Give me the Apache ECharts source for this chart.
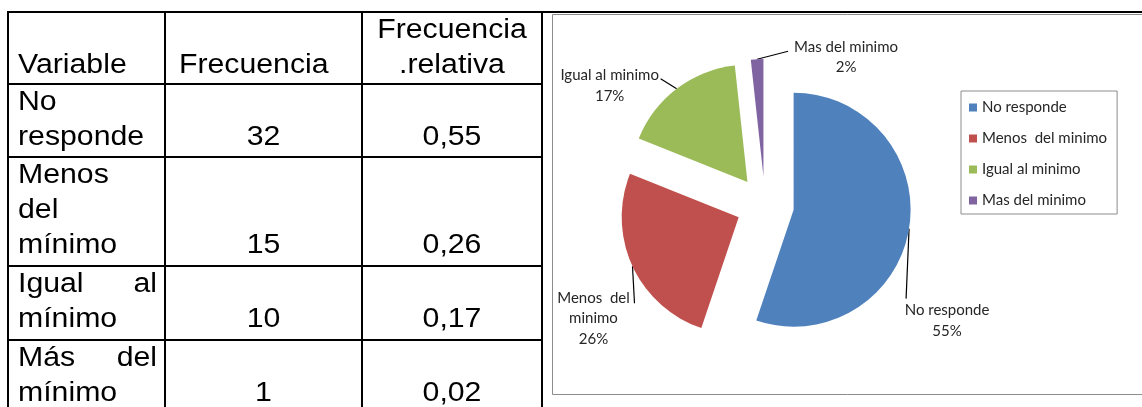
<!DOCTYPE html>
<html>
<head>
<meta charset="utf-8">
<script src="https://cdn.jsdelivr.net/npm/echarts@6/dist/echarts.min.js"></script>
<style>
  html, body { margin: 0; padding: 0; background: #fff; }
  #c { width: 1142px; height: 407px; }
</style>
</head>
<body>
<div id="c"></div>
<script>
// ---------------- data ----------------
const tableHeaders = ['Variable', 'Frecuencia', 'Frecuencia\n.relativa'];
const tableCategories = ['No\nresponde', 'Menos\ndel\nmínimo', 'Igual al\nmínimo', 'Más del\nmínimo'];
const frequencies = [32, 15, 10, 1];
const relativeFrequencies = [0.55, 0.26, 0.17, 0.02];
const pieCategories = ['No responde', 'Menos  del minimo', 'Igual al minimo', 'Mas del minimo'];
const pieLabelNames = ['No responde', 'Menos  del\nminimo', 'Igual al minimo', 'Mas del minimo'];
const pieColors = ['#4F81BD', '#C0504D', '#9BBB59', '#8064A2'];

// ---------------- layout ----------------
const TABLE_FONT = '"Liberation Sans", Arial, sans-serif';
const FS = 27, SX = 1.12, MID = 9.5;         // font size, horizontal stretch, baseline->middle
const colX = [8, 165, 362, 542];
const rowTops = [12, 84, 157, 266, 340];     // header + 4 rows
const TOP_Y = 12;
const PITCH = 35, FIRST_OFF = 28;
const CELL_PAD_L = 10, CELL_PAD_R = 8, HEADER2_LEFT = 179;

const PIE_C = [765, 205], PIE_R = 117, EXPLODE = 29;
// label placement relative to the arc mid-point: [labelDx, labelDy, lineEndDx, lineEndDy]
const labelPlacement = [
  [38, 92, -3, 70],
  [-39, 52, 2, 37],
  [-67, -3, -16, -10],
  [89, -2, 31, -8]
];

const chart = echarts.init(document.getElementById('c'), null, { renderer: 'canvas' });

// ---------------- table graphics ----------------
const graphics = [];
function txt(text, x, baseline, align) {
  graphics.push({
    type: 'text', x: x, y: baseline - MID, scaleX: SX, silent: true, z: 10,
    style: { text: text, fill: '#000', font: FS + 'px ' + TABLE_FONT, align: align, verticalAlign: 'middle' }
  });
}
function lineEl(x1, y1, x2, y2, color, w) {
  graphics.push({ type: 'line', silent: true, z: 5,
    shape: { x1: x1, y1: y1, x2: x2, y2: y2 }, style: { stroke: color, lineWidth: w } });
}
// chart frame
graphics.push({ type: 'rect', silent: true, z: 1,
  shape: { x: 552.5, y: 14.5, width: 640, height: 380 },
  style: { fill: 'none', stroke: '#8c8c8c', lineWidth: 1 } });
// table lines
lineEl(7, TOP_Y, 1142, TOP_Y, '#000', 2);
colX.forEach(x => lineEl(x, TOP_Y - 1, x, 407, '#000', 2));
rowTops.slice(1).forEach(y => lineEl(colX[0] - 1, y, colX[3] + 1, y, '#000', 2));

function baselines(rowIdx, n) {
  const arr = [];
  for (let k = 0; k < n; k++) arr.push(rowTops[rowIdx] + FIRST_OFF + k * PITCH);
  return arr;
}
// header
const hb = baselines(0, 2);
txt(tableHeaders[0], colX[0] + CELL_PAD_L, hb[1], 'left');
txt(tableHeaders[1], HEADER2_LEFT, hb[1], 'left');
tableHeaders[2].split('\n').forEach((s, k) => txt(s, (colX[2] + colX[3]) / 2, hb[k], 'center'));
// rows
tableCategories.forEach((cat, r) => {
  const lines = cat.split('\n');
  const bl = baselines(r + 1, lines.length);
  lines.forEach((ln, k) => {
    const words = ln.split(' ');
    if (words.length > 1 && k < lines.length - 1) {
      txt(words[0], colX[0] + CELL_PAD_L, bl[k], 'left');
      txt(words[words.length - 1], colX[1] - CELL_PAD_R, bl[k], 'right');
    } else {
      txt(ln, colX[0] + CELL_PAD_L, bl[k], 'left');
    }
  });
  const lastB = bl[bl.length - 1];
  txt(String(frequencies[r]), (colX[1] + colX[2]) / 2, lastB, 'center');
  txt(relativeFrequencies[r].toFixed(2).replace('.', ','), (colX[2] + colX[3]) / 2, lastB, 'center');
});

// ---------------- pie (exploded slices) ----------------
const total = frequencies.reduce((a, b) => a + b, 0);
let acc = 0;
const series = frequencies.map((v, i) => {
  const mid = (acc + v / 2) / total * 2 * Math.PI;
  acc += v;
  const ux = Math.sin(mid), uy = -Math.cos(mid);
  const cx = PIE_C[0] + EXPLODE * ux, cy = PIE_C[1] + EXPLODE * uy;
  const p0 = [cx + PIE_R * ux, cy + PIE_R * uy];
  const pl = labelPlacement[i];
  return {
    type: 'pie',
    name: pieCategories[i],
    center: [cx, cy],
    radius: PIE_R,
    startAngle: 90,
    clockwise: true,
    percentPrecision: 0,
    avoidLabelOverlap: false,
    silent: true,
    animation: false,
    emphasis: { disabled: true },
    itemStyle: { borderWidth: 0 },
    data: frequencies.map((w, j) => ({
      value: w,
      name: pieCategories[j],
      itemStyle: { color: j === i ? pieColors[j] : 'rgba(0,0,0,0)', borderWidth: 0 },
      label: j === i ? {
        show: true,
        formatter: p => pieLabelNames[p.dataIndex] + '\n' + p.percent + '%',
        fontFamily: 'Lato', fontSize: 15, lineHeight: 20.5, color: '#262626',
        align: 'center', overflow: 'none'
      } : { show: false },
      labelLine: j === i ? { show: true, length: 10, length2: 10, smooth: false,
        lineStyle: { color: '#000', width: 1.2 } } : { show: false }
    })),
    labelLayout: params => params.dataIndex === i ? {
      x: p0[0] + pl[0], y: p0[1] + pl[1], align: 'center', verticalAlign: 'middle',
      labelLinePoints: [p0.slice(), [p0[0] + pl[2], p0[1] + pl[3]]]
    } : {}
  };
});

chart.setOption({
  animation: false,
  backgroundColor: '#fff',
  legend: {
    orient: 'vertical',
    left: 961, top: 91,
    data: pieCategories.map((n, i) => ({ name: n, itemStyle: { color: pieColors[i] } })),
    icon: 'rect', itemWidth: 8, itemHeight: 8, itemGap: 16,
    padding: [9, 10, 6, 8],
    borderColor: '#8c8c8c', borderWidth: 1, borderRadius: 0,
    backgroundColor: '#fff',
    selectedMode: false,
    textStyle: { fontFamily: 'Lato', fontSize: 15, color: '#262626', lineHeight: 15 }
  },
  graphic: { elements: graphics },
  series: series
});
</script>
</body>
</html>
